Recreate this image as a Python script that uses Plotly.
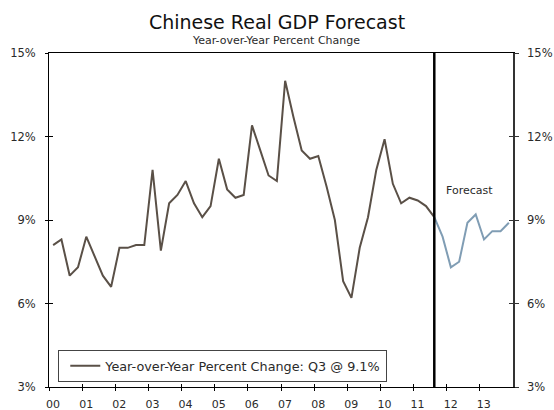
import plotly.graph_objects as go

# ---- data ----
actual_start = (2000, 1)
actual_values = [8.1, 8.3, 7.0, 7.3,
                 8.4, 7.7, 7.0, 6.6,
                 8.0, 8.0, 8.1, 8.1,
                 10.8, 7.9, 9.6, 9.9,
                 10.4, 9.6, 9.1, 9.5,
                 11.2, 10.1, 9.8, 9.9,
                 12.4, 11.5, 10.6, 10.4,
                 14.0, 12.7, 11.5, 11.2,
                 11.3, 10.2, 9.0, 6.8,
                 6.2, 8.0, 9.1, 10.8,
                 11.9, 10.3, 9.6, 9.8,
                 9.7, 9.5, 9.1]
forecast_start = (2011, 3)
forecast_values = [9.1, 8.4,
                   7.3, 7.5, 8.9, 9.2,
                   8.3, 8.6, 8.6, 8.9]
year_ticks = list(range(2000, 2014))
year_labels = [f"{y % 100:02d}" for y in year_ticks]
y_ticks = [3, 6, 9, 12, 15]
y_labels = [f"{v}%" for v in y_ticks]
legend_name = "Year-over-Year Percent Change: Q3 @ 9.1%"
forecast_label = "Forecast"
forecast_label_pos = (2012.7, 10.05)


def quarter_x(start, n):
    y0, q0 = start
    out = []
    for i in range(n):
        k = (q0 - 1) + i
        out.append(y0 + k // 4 + ((k % 4) + 0.5) / 4)
    return out


x_act = quarter_x(actual_start, len(actual_values))
x_fc = quarter_x(forecast_start, len(forecast_values))
forecast_line_x = x_fc[0]

ACT_COLOR = "#5a5047"
FC_COLOR = "#809db4"
FONT = "DejaVu Sans"
TXT = "#2a2a2a"

fig = go.Figure()
fig.add_trace(go.Scatter(x=x_act, y=actual_values, mode="lines",
                         line=dict(color=ACT_COLOR, width=2),
                         name=legend_name, showlegend=True))
fig.add_trace(go.Scatter(x=x_fc, y=forecast_values, mode="lines",
                         line=dict(color=FC_COLOR, width=2),
                         name="Forecast", showlegend=False))
# empty helper traces so that the extra tick axes are created
for xa, ya in [("x2", "y"), ("x", "y2"), ("x", "y3"), ("x", "y4")]:
    fig.add_trace(go.Scatter(x=[], y=[], xaxis=xa, yaxis=ya, mode="lines",
                             showlegend=False, hoverinfo="skip"))

fig.add_shape(type="line", xref="x", yref="paper",
              x0=forecast_line_x, x1=forecast_line_x, y0=0, y1=1,
              line=dict(color="black", width=2.5))

xr = [year_ticks[0], year_ticks[-1] + 1]
yr = [y_ticks[0], y_ticks[-1]]

common_x = dict(range=xr, tickmode="array", tickvals=year_ticks,
                showgrid=False, zeroline=False, fixedrange=True,
                automargin=False)
common_y = dict(range=yr, tickmode="array", tickvals=y_ticks,
                showgrid=False, zeroline=False, fixedrange=True,
                automargin=False)

fig.update_layout(
    template="none",
    width=554, height=410,
    margin=dict(l=49, r=41, t=53, b=23, autoexpand=False),
    paper_bgcolor="white", plot_bgcolor="white",
    font=dict(family=FONT, size=11, color=TXT),
    title=dict(text="Chinese Real GDP Forecast", x=0.5, xanchor="center",
               y=1 - 22 / 410, yanchor="middle", yref="container",
               font=dict(family=FONT, size=19, color="#111111")),
    xaxis=dict(**common_x, ticktext=year_labels, ticks="outside", ticklen=3,
               tickcolor="black", showline=True, linecolor="black",
               linewidth=1, mirror=True, ticklabelshift=4,
               ticklabelstandoff=4,
               tickfont=dict(family=FONT, size=11, color=TXT)),
    xaxis2=dict(**common_x, overlaying="x", anchor="y", side="bottom",
                ticks="inside", ticklen=3, tickcolor="black",
                showticklabels=False, showline=False),
    yaxis=dict(**common_y, ticktext=y_labels, ticks="outside", ticklen=3,
               tickcolor="black", showline=True, linecolor="black",
               linewidth=1, side="left", ticklabelstandoff=7,
               tickfont=dict(family=FONT, size=11.5, color=TXT)),
    yaxis3=dict(**common_y, overlaying="y", anchor="x", side="left",
                ticks="inside", ticklen=4, tickcolor="black",
                showticklabels=False, showline=False),
    yaxis2=dict(**common_y, overlaying="y", anchor="x", side="right",
                ticktext=y_labels, ticks="outside", ticklen=4,
                tickcolor="#333333", showline=True, linecolor="#333333",
                linewidth=1.5, ticklabelstandoff=6, showticklabels=True,
                tickfont=dict(family=FONT, size=11.5, color=TXT)),
    yaxis4=dict(**common_y, overlaying="y", anchor="x", side="right",
                ticks="inside", ticklen=4, tickcolor="#333333",
                showticklabels=False, showline=False),
    legend=dict(x=0.02, xanchor="left", y=(387 - 366) / 334,
                yanchor="middle",
                bgcolor="white", bordercolor="#444444", borderwidth=1,
                font=dict(family=FONT, size=12.8, color=TXT),
                itemwidth=30, tracegroupgap=0, indentation=6),
    showlegend=True,
)

fig.add_annotation(text="Year-over-Year Percent Change", xref="paper",
                   yref="paper", x=0.49, y=1 + (53 - 41) / 334,
                   xanchor="center", yanchor="middle", showarrow=False,
                   font=dict(family=FONT, size=11, color=TXT))

fig.add_annotation(text=forecast_label, x=forecast_label_pos[0],
                   y=forecast_label_pos[1], xref="x", yref="y",
                   showarrow=False, xanchor="center", yanchor="middle",
                   font=dict(family=FONT, size=11, color=TXT))

fig.write_html("out.html",
               config={"displayModeBar": False},
               post_script="document.body.style.margin='0';"
                           "document.body.style.overflow='hidden';")
